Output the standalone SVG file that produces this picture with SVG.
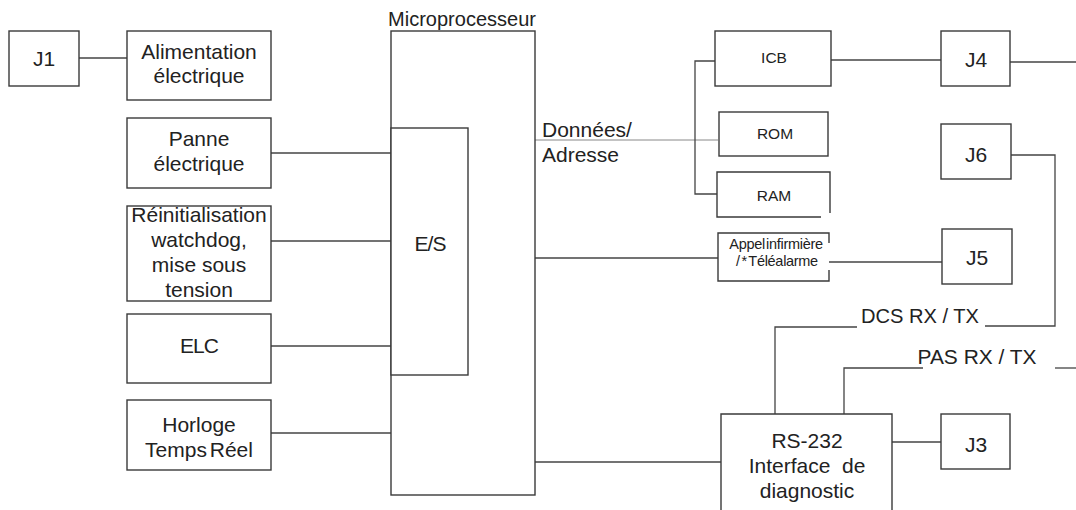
<svg xmlns="http://www.w3.org/2000/svg" width="1076" height="510" viewBox="0 0 1076 510">
<style>
.b{fill:#fff;stroke:#3a3a3a;stroke-width:1.4}
.o{fill:none;stroke:#3a3a3a;stroke-width:1.4}
.c{fill:none;stroke:#444;stroke-width:1.3}
.l{fill:none;stroke:#888;stroke-width:1}
text{font-family:"Liberation Sans",Arial,sans-serif;fill:#222;text-anchor:middle}
.t{font-size:21px}
.s{font-size:15.5px}
.xs{font-size:14.5px}
.st{text-anchor:start}
</style>
<rect width="1076" height="510" fill="#fff"/>
<g id="connectors">
<line class="c" x1="79" y1="58" x2="127" y2="58"/>
<line class="c" x1="271" y1="153" x2="391" y2="153"/>
<line class="c" x1="271" y1="241" x2="391" y2="241"/>
<line class="c" x1="271" y1="346" x2="391" y2="346"/>
<line class="c" x1="271" y1="433" x2="391" y2="433"/>
<line class="l" x1="535" y1="140" x2="718" y2="140"/>
<polyline class="c" points="715,61 695,61 695,194 717,194"/>
<line class="c" x1="535" y1="258" x2="718" y2="258"/>
<line class="c" x1="829" y1="262" x2="942" y2="262"/>
<line class="c" x1="535" y1="462" x2="721" y2="462"/>
<line class="c" x1="892" y1="442" x2="941" y2="442"/>
<line class="c" x1="831" y1="60" x2="941" y2="60"/>
<line class="c" x1="1010" y1="62" x2="1076" y2="62"/>
<polyline class="c" points="1011,155 1055,155 1055,326 985,326"/>
<polyline class="c" points="775,414 775,327 857,327"/>
<polyline class="c" points="844,414 844,368 923,368"/>
<line class="c" x1="1055" y1="368" x2="1076" y2="368"/>
</g>
<g id="J1"><rect class="b" x="9" y="31" width="70" height="55"/><text class="t" x="44" y="66">J1</text></g>
<g id="alimentation"><rect class="b" x="127" y="31" width="144" height="69"/><text class="t" x="199" y="59">Alimentation</text><text class="t" x="199" y="83">électrique</text></g>
<g id="panne"><rect class="b" x="127" y="118" width="144" height="70"/><text class="t" x="199" y="146">Panne</text><text class="t" x="199" y="171">électrique</text></g>
<g id="reinit"><rect class="b" x="127" y="206" width="144" height="95"/><text class="t" x="199" y="222">Réinitialisation</text><text class="t" x="199" y="247">watchdog,</text><text class="t" x="199" y="272">mise sous</text><text class="t" x="199" y="297">tension</text></g>
<g id="elc"><rect class="b" x="127" y="314" width="144" height="69"/><text class="t" x="199" y="353" letter-spacing="-1">ELC</text></g>
<g id="horloge"><rect class="b" x="127" y="400" width="144" height="70"/><text class="t" x="199" y="432">Horloge</text><text class="t" x="199" y="457" word-spacing="-3">Temps Réel</text></g>
<g id="microprocesseur"><rect class="b" x="391" y="31" width="144" height="464"/><text class="t st" x="388" y="26" textLength="148" lengthAdjust="spacingAndGlyphs">Microprocesseur</text></g>
<g id="es"><rect class="b" x="391" y="128" width="77" height="247"/><text class="t" x="430" y="251" letter-spacing="-1">E/S</text></g>
<g id="donnees-label"><text class="t st" x="542" y="137">Données/</text><text class="t st" x="542" y="162">Adresse</text></g>
<g id="icb"><rect class="b" x="715" y="31" width="116" height="55"/><text class="s" x="774" y="63">ICB</text></g>
<g id="rom"><rect class="b" x="719" y="112" width="109" height="44"/><text class="s" x="775" y="139">ROM</text></g>
<g id="ram"><path class="o" d="M821,217 H717 V172 H830 V213"/><text class="s" x="774" y="201">RAM</text></g>
<g id="appel"><path class="o" d="M829,243 V233 H718 V281 H829 V270"/><text class="xs" x="776" y="249" word-spacing="-2.5" letter-spacing="-0.3">Appel infirmière</text><text class="xs" x="777" y="266" word-spacing="-2" letter-spacing="-0.3">/ * Téléalarme</text></g>
<g id="J4"><rect class="b" x="941" y="31" width="69" height="55"/><text class="t" x="976" y="67">J4</text></g>
<g id="J6"><rect class="b" x="941" y="124" width="70" height="55"/><text class="t" x="976" y="162">J6</text></g>
<g id="J5"><rect class="b" x="942" y="229" width="70" height="55"/><text class="t" x="977" y="265">J5</text></g>
<g id="J3"><rect class="b" x="941" y="414" width="69" height="55"/><text class="t" x="976" y="452">J3</text></g>
<g id="rs232"><path class="o" d="M721,512 V414 H892 V512"/><text class="t" x="807" y="448">RS-232</text><text class="t" x="807" y="473" xml:space="preserve">Interface  de</text><text class="t" x="807" y="498">diagnostic</text></g>
<g id="dcs-label"><text class="t" x="920" y="323" textLength="118" lengthAdjust="spacingAndGlyphs">DCS RX / TX</text></g>
<g id="pas-label"><text class="t" x="977" y="364" textLength="119" lengthAdjust="spacingAndGlyphs">PAS RX / TX</text></g>
</svg>
